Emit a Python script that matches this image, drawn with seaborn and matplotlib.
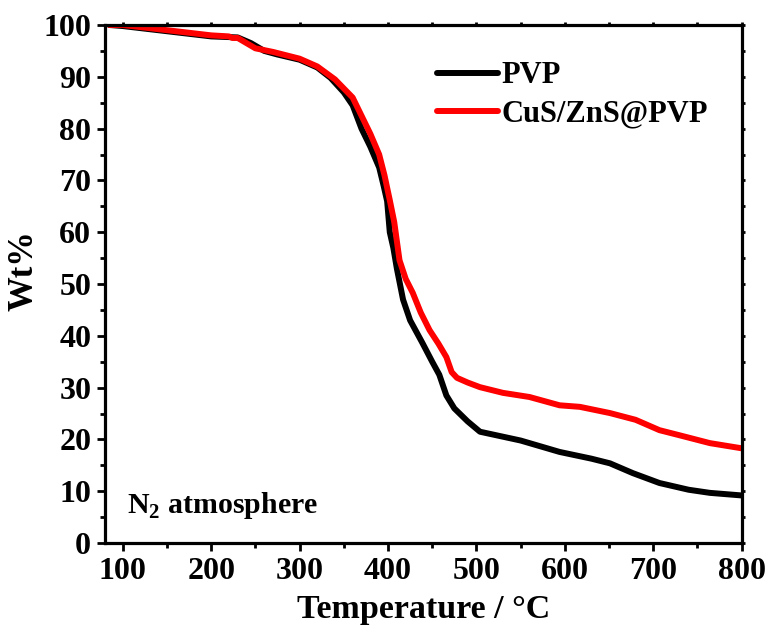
import seaborn as sns
import pandas as pd
import matplotlib.pyplot as plt
from matplotlib.ticker import MultipleLocator

sns.set_theme(style="ticks")
plt.rcParams['font.family'] = ['Liberation Serif', 'DejaVu Serif']
plt.rcParams['font.weight'] = 'bold'
plt.rcParams['mathtext.fontset'] = 'custom'
plt.rcParams['mathtext.rm'] = 'Liberation Serif:bold'
plt.rcParams['mathtext.bf'] = 'Liberation Serif:bold'
for k in ['text.color', 'axes.labelcolor', 'xtick.color', 'ytick.color', 'axes.edgecolor']:
    plt.rcParams[k] = 'black'

# TGA curves
pvp_t = [85, 100, 150, 200, 230, 245, 260, 275, 300, 320, 335, 350, 360, 370, 380, 390, 395, 399,
         402, 406, 410, 417, 425, 439, 450, 458, 466, 475, 490, 504, 550, 594, 630, 651, 677, 707,
         740, 764, 800]
pvp_w = [100, 99.8, 98.8, 97.8, 97.6, 96.5, 95, 94.3, 93.3, 91.8, 89.8, 87, 84.5, 80, 76.5, 72.5, 69, 66,
         60, 57, 53, 47, 43, 38.6, 35, 32.5, 28.5, 26, 23.5, 21.5, 19.8, 17.6, 16.3, 15.4, 13.5, 11.6,
         10.3, 9.7, 9.2]

red_t = [85, 100, 150, 200, 220, 224, 230, 250, 270, 300, 320, 340, 360, 370, 380, 390, 396, 402,
         407, 413, 420, 428, 437, 447, 457, 466, 472, 478, 490, 504, 530, 560, 594, 617, 651, 680,
         707, 730, 764, 800]
red_w = [100, 100, 99, 98, 97.8, 97.5, 97.5, 95.5, 94.8, 93.5, 92, 89.5, 86, 82.5, 79, 75, 71, 66.2,
         62, 54.6, 51, 48.3, 44.5, 41.1, 38.5, 35.9, 33, 31.9, 31, 30.1, 29, 28.2, 26.6, 26.3, 25.1, 23.8,
         21.8, 20.8, 19.3, 18.3]

x_ticks = [100, 200, 300, 400, 500, 600, 700, 800]
y_ticks = [0, 10, 20, 30, 40, 50, 60, 70, 80, 90, 100]

df = pd.concat([
    pd.DataFrame({"T": pvp_t, "W": pvp_w, "sample": "PVP"}),
    pd.DataFrame({"T": red_t, "W": red_w, "sample": "CuS/ZnS@PVP"}),
], ignore_index=True)

fig = plt.figure(figsize=(7.67, 6.33), dpi=100)
ax = fig.add_axes([0.137, 0.142, 0.83, 0.8185])

sns.lineplot(data=df, x="T", y="W", hue="sample", palette=["black", "red"],
             linewidth=4.3, sort=False, ax=ax)

ax.set_xlim(80, 800)
ax.set_ylim(0, 100)
ax.set_xticks(x_ticks)
ax.set_yticks(y_ticks)
ax.xaxis.set_minor_locator(MultipleLocator(50))
ax.yaxis.set_minor_locator(MultipleLocator(5))
for s in ax.spines.values():
    s.set_linewidth(2.3)
    s.set_visible(True)
ax.tick_params(which='major', direction='out', length=6, width=2, labelsize=23, pad=4)
ax.tick_params(which='minor', direction='out', length=3.5, width=2)
ax.tick_params(which='both', top=True, right=True)
for t in (ax.xaxis.get_major_ticks() + ax.xaxis.get_minor_ticks()
          + ax.yaxis.get_major_ticks() + ax.yaxis.get_minor_ticks()):
    t.tick2line.set_markersize(2)
for lab in ax.get_xticklabels() + ax.get_yticklabels():
    lab.set_fontweight('bold')

ax.set_xlabel("Temperature / °C", fontsize=24.5, fontweight='bold', labelpad=6)
ax.set_ylabel("Wt%", fontsize=25, fontweight='bold')
ax.yaxis.set_label_coords(-0.102, 0.527)

leg = ax.legend(loc='upper left', bbox_to_anchor=(0.478, 0.983), frameon=False,
                handlelength=2.0, handletextpad=0.1, labelspacing=0.3,
                prop={'weight': 'bold', 'size': 22})
for h in leg.get_lines():
    h.set_linewidth(4.3)

ax.text(0.035, 0.073, r"N$_{2}$ atmosphere", transform=ax.transAxes,
        fontsize=21.5, fontweight='bold', va='center', ha='left')

fig.savefig("out.png", dpi=100)
